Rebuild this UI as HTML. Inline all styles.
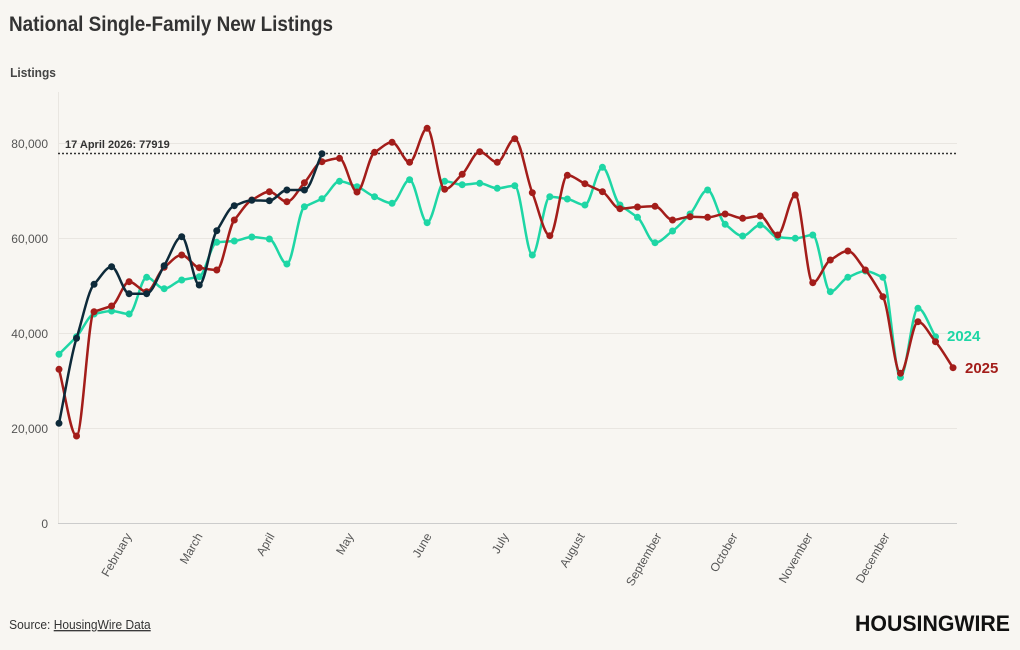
<!DOCTYPE html>
<html><head><meta charset="utf-8"><style>
html,body{margin:0;padding:0;background:#f8f6f2;}
body{width:1020px;height:650px;overflow:hidden;font-family:"Liberation Sans",sans-serif;}
</style></head><body>
<svg id="s" width="1020" height="650" xmlns="http://www.w3.org/2000/svg" style="position:absolute;left:0;top:0">
<rect width="1020" height="650" fill="#f8f6f2"/>
<text x="10" y="31" font-size="21" font-weight="bold" fill="#333" transform="scale(0.9,1)" textLength="360">National Single-Family New Listings</text>
<text x="11" y="77" font-size="13" font-weight="bold" fill="#444" transform="scale(0.92,1)">Listings</text>
<g stroke="#e9e6e1" stroke-width="1">
<line x1="58" x2="957" y1="143.5" y2="143.5"/><line x1="58" x2="957" y1="238.5" y2="238.5"/>
<line x1="58" x2="957" y1="333.5" y2="333.5"/><line x1="58" x2="957" y1="428.5" y2="428.5"/>
<line x1="58.5" x2="58.5" y1="92" y2="523"/>
</g>
<line x1="58" x2="957" y1="523.5" y2="523.5" stroke="#ccc"/>
<g font-size="12" fill="#555" text-anchor="end">
<text x="48" y="148">80,000</text><text x="48" y="243">60,000</text><text x="48" y="338">40,000</text><text x="48" y="433">20,000</text><text x="48" y="528">0</text>
</g>
<g id="months" font-size="12" fill="#555" text-anchor="end"></g>
<line x1="58" x2="957" y1="153.5" y2="153.5" stroke="#333" stroke-width="1.5" stroke-dasharray="2,2"/>
<text x="65" y="148" font-size="11" font-weight="bold" fill="#333">17 April 2026: 77919</text>
<g id="lines"></g>
<text x="947" y="341" font-size="15" font-weight="bold" fill="#1ed6a5">2024</text>
<text x="965" y="373" font-size="15" font-weight="bold" fill="#a31d1a">2025</text>
<text x="10" y="629" font-size="13" fill="#333" transform="scale(0.92,1)">Source: <tspan text-decoration="underline">HousingWire Data</tspan></text>
<text x="855" y="631" font-size="22" font-weight="900" fill="#111" textLength="155" lengthAdjust="spacingAndGlyphs">HOUSINGWIRE</text>
</svg>
<script>
var ns="http://www.w3.org/2000/svg";
var teal=[354.3,336.7,314,311,314,277.3,288.7,280,276.7,242.3,241,237,239,264,206.7,198.7,181.3,186.7,196.7,203.3,179.7,222.7,181.3,184.7,183.3,188.3,185.7,255,196.7,199,205,167.3,205,217.3,242.7,231,214,190,224.3,236,225,237.3,238.3,235,291.7,277.3,271,277.3,377.3,308.3,336.7];
var red=[369.3,436,311.7,306,281.7,291.7,267.3,255,267.7,270,220,200,191.7,201.7,182.7,161.7,158.3,192,152.3,142.3,162.3,128.3,189.3,174.3,151.7,162.3,138.7,192.7,235.7,175.3,183.7,191.7,208.7,207,206.3,220,216.7,217.3,214,218.3,216,235,195,282.7,260,251,270,296.7,373.3,321.7,341.7,367.7];
var navy=[423.3,338.3,284.3,266.7,293.7,293.7,265.7,236.7,285,230.7,205.7,200.3,200.7,190,190,153.7];
function X(i){return 59+17.53*i;}
function path(ys){
 var n=ys.length,xs=ys.map(function(_,i){return X(i)}),m=[],d=[];
 for(var i=0;i<n-1;i++)d.push((ys[i+1]-ys[i])/(xs[i+1]-xs[i]));
 for(i=0;i<n;i++){
  if(i==0)m.push(d[0]);else if(i==n-1)m.push(d[n-2]);
  else{ if(d[i-1]*d[i]<=0)m.push(0);else{var h=xs[1]-xs[0];m.push(Math.sign(d[i])*Math.min(Math.abs(d[i-1]),Math.abs(d[i]),0.5*Math.abs(d[i-1]+d[i])*1)*1.0);} }
 }
 var p="M"+xs[0]+","+ys[0];
 for(i=0;i<n-1;i++){var h=(xs[i+1]-xs[i])/3;
  p+="C"+(xs[i]+h)+","+(ys[i]+m[i]*h)+" "+(xs[i+1]-h)+","+(ys[i+1]-m[i+1]*h)+" "+xs[i+1]+","+ys[i+1];}
 return p;
}
var g=document.getElementById("lines");
function draw(ys,c){
 var p=document.createElementNS(ns,"path");p.setAttribute("d",path(ys));p.setAttribute("fill","none");
 p.setAttribute("stroke",c);p.setAttribute("stroke-width","2.5");g.appendChild(p);
 ys.forEach(function(y,i){var k=document.createElementNS(ns,"circle");k.setAttribute("cx",X(i));k.setAttribute("cy",y);k.setAttribute("r","3.5");k.setAttribute("fill",c);g.appendChild(k);});
}
draw(teal,"#1ed6a5");draw(red,"#a31d1a");draw(navy,"#0e2a3a");
var months=[["February",128],["March",199],["April",271],["May",350],["June",428],["July",505],["August",581],["September",658],["October",734],["November",809],["December",886]];
var mg=document.getElementById("months");
months.forEach(function(a){var t=document.createElementNS(ns,"text");t.setAttribute("transform","translate("+(a[1]+4)+",536) rotate(-60)");t.textContent=a[0];mg.appendChild(t);});
</script>
</body></html>
